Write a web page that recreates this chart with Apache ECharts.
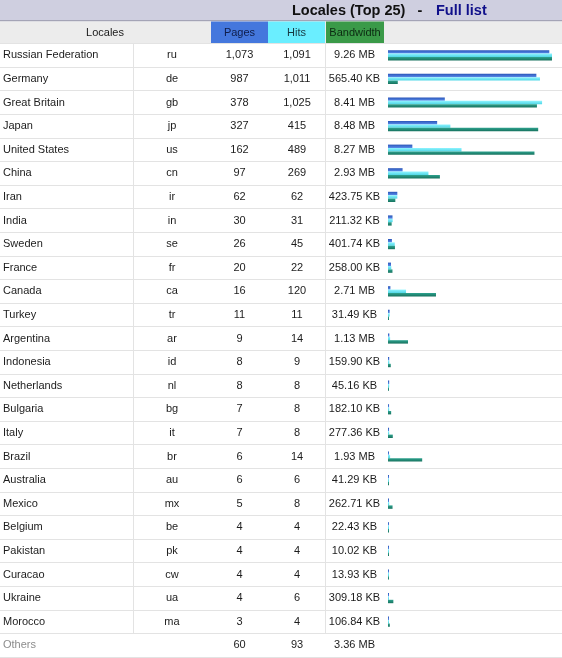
<!DOCTYPE html>
<html>
<head>
<meta charset="utf-8">
<script src="https://cdn.jsdelivr.net/npm/echarts/dist/echarts.min.js"></script>
<style>
  html, body { margin: 0; padding: 0; background: #ffffff; }
  #chart { width: 562px; height: 658px; }
</style>
</head>
<body>
<div id="chart"></div>
<script>
// ---- data ----
const locales = ['Russian Federation', 'Germany', 'Great Britain', 'Japan', 'United States', 'China',
  'Iran', 'India', 'Sweden', 'France', 'Canada', 'Turkey', 'Argentina', 'Indonesia', 'Netherlands',
  'Bulgaria', 'Italy', 'Brazil', 'Australia', 'Mexico', 'Belgium', 'Pakistan', 'Curacao', 'Ukraine',
  'Morocco', 'Others'];
const codes = ['ru', 'de', 'gb', 'jp', 'us', 'cn', 'ir', 'in', 'se', 'fr', 'ca', 'tr', 'ar', 'id', 'nl',
  'bg', 'it', 'br', 'au', 'mx', 'be', 'pk', 'cw', 'ua', 'ma', ''];
const pages = [1073, 987, 378, 327, 162, 97, 62, 30, 26, 20, 16, 11, 9, 8, 8, 7, 7, 6, 6, 5, 4, 4, 4, 4, 3, 60];
const hits = [1091, 1011, 1025, 415, 489, 269, 62, 31, 45, 22, 120, 11, 14, 9, 8, 8, 8, 14, 6, 8, 4, 4, 4, 6, 4, 93];
// bandwidth in KB
const bandwidthKB = [9482.24, 565.40, 8611.84, 8683.52, 8468.48, 3000.32, 423.75, 211.32, 401.74, 258.00,
  2775.04, 31.49, 1157.12, 159.90, 45.16, 182.10, 277.36, 1976.32, 41.29, 262.71, 22.43, 10.02, 13.93,
  309.18, 106.84, 3440.64];
const headers = ['Locales', 'Pages', 'Hits', 'Bandwidth'];
const titleText = 'Locales (Top 25)';
const linkText = 'Full list';

// ---- layout / style ----
const W = 562, H = 658;
const ROWS_TOP = 43.5, ROW_H = 23.6;
const BAR_LEFT = 388, BAR_W = 164;
const FONT = 'Liberation Sans';
const TXT = '#1c1c1c';
const nTop = locales.length - 1;

function fmtInt(n) { return String(n).replace(/\B(?=(\d{3})+(?!\d))/g, ','); }
function fmtBW(kb) { return kb >= 1024 ? (kb / 1024).toFixed(2) + ' MB' : kb.toFixed(2) + ' KB'; }

const gridH = ROW_H * locales.length;

function textAxis(centerX, align, formatter, colorFn) {
  return {
    type: 'category', gridIndex: 1, data: locales, inverse: true, position: 'left',
    offset: BAR_LEFT - centerX,
    axisLine: { show: false }, axisTick: { show: false }, splitLine: { show: false },
    axisLabel: {
      show: true, interval: 0, margin: 0, align: align, fontFamily: FONT, fontSize: 11,
      color: colorFn || TXT, formatter: formatter
    }
  };
}

const option = {
  backgroundColor: '#ffffff',
  animation: false,
  grid: [
    { left: 0, width: W, top: ROWS_TOP, height: gridH },
    { left: BAR_LEFT, width: BAR_W, top: ROWS_TOP, height: gridH }
  ],
  xAxis: [
    { type: 'value', gridIndex: 0, show: false },
    { type: 'value', gridIndex: 1, show: false, min: 0, max: Math.max(...hits.slice(0, nTop)) },
    { type: 'value', gridIndex: 1, show: false, min: 0, max: Math.max(...bandwidthKB.slice(0, nTop)) }
  ],
  yAxis: [
    {
      type: 'category', gridIndex: 0, data: locales, inverse: true,
      axisLine: { show: false }, axisTick: { show: false }, axisLabel: { show: false },
      splitLine: { show: true, lineStyle: { color: '#e3e3e3', width: 1 } }
    },
    {
      type: 'category', gridIndex: 1, data: locales, inverse: true,
      axisLine: { show: false }, axisTick: { show: false }, axisLabel: { show: false },
      splitLine: { show: false }
    },
    textAxis(3, 'left', (v, i) => locales[i], (v, i) => (i === nTop ? '#8c8c8c' : TXT)),
    textAxis(172, 'center', (v, i) => codes[i]),
    textAxis(239.5, 'center', (v, i) => fmtInt(pages[i])),
    textAxis(297, 'center', (v, i) => fmtInt(hits[i])),
    textAxis(354.5, 'center', (v, i) => fmtBW(bandwidthKB[i]))
  ],
  series: [
    {
      name: 'Pages', type: 'bar', xAxisIndex: 1, yAxisIndex: 1, data: pages.slice(0, nTop),
      barWidth: 3.4, barGap: '0%', barMinHeight: 1,
      itemStyle: { color: { type: 'linear', x: 0, y: 0, x2: 0, y2: 1,
        colorStops: [{ offset: 0, color: '#2a55b8' }, { offset: 1, color: '#5a8ceb' }] } }
    },
    {
      name: 'Hits', type: 'bar', xAxisIndex: 1, yAxisIndex: 1, data: hits.slice(0, nTop),
      barWidth: 3.4, barGap: '0%', barMinHeight: 1,
      itemStyle: { color: { type: 'linear', x: 0, y: 0, x2: 0, y2: 1,
        colorStops: [{ offset: 0, color: '#8ff4ff' }, { offset: 1, color: '#4fd6e6' }] } }
    },
    {
      name: 'Bandwidth', type: 'bar', xAxisIndex: 2, yAxisIndex: 1, data: bandwidthKB.slice(0, nTop),
      barWidth: 3.4, barGap: '0%', barMinHeight: 1,
      itemStyle: { color: { type: 'linear', x: 0, y: 0, x2: 0, y2: 1,
        colorStops: [{ offset: 0, color: '#2ea38f' }, { offset: 1, color: '#17725e' }] } }
    }
  ],
  graphic: [
    // title bar
    { type: 'rect', shape: { x: 0, y: 0, width: W, height: 20 }, style: { fill: '#cfcfe0' }, silent: true },
    { type: 'rect', shape: { x: 0, y: 20, width: W, height: 1.5 }, style: { fill: '#a4a4b6' }, silent: true },
    { type: 'text', x: 292, y: 10.5, style: { text: titleText, font: 'bold 14.5px ' + FONT, fill: '#111111', textVerticalAlign: 'middle' }, silent: true },
    { type: 'text', x: 420, y: 10.5, style: { text: '-', font: 'bold 14.5px ' + FONT, fill: '#111111', textAlign: 'center', textVerticalAlign: 'middle' }, silent: true },
    { type: 'text', x: 436, y: 10.5, style: { text: linkText, font: 'bold 14.5px ' + FONT, fill: '#10108a', textVerticalAlign: 'middle' }, silent: true },
    // header row
    { type: 'rect', shape: { x: 0, y: 21.5, width: W, height: 21.5 }, style: { fill: '#ececec' }, silent: true },
    { type: 'rect', shape: { x: 211, y: 21.5, width: 57, height: 21.5 }, style: { fill: '#4477dd' }, silent: true },
    { type: 'rect', shape: { x: 268, y: 21.5, width: 57, height: 21.5 }, style: { fill: '#6aeeff' }, silent: true },
    { type: 'rect', shape: { x: 326, y: 21.5, width: 58, height: 21.5 }, style: { fill: '#3a9a48' }, silent: true },
    { type: 'text', x: 105, y: 32.5, style: { text: headers[0], font: '11px ' + FONT, fill: '#1a1a1a', textAlign: 'center', textVerticalAlign: 'middle' }, silent: true },
    { type: 'text', x: 239.5, y: 32.5, style: { text: headers[1], font: '11px ' + FONT, fill: '#0f1d4a', textAlign: 'center', textVerticalAlign: 'middle' }, silent: true },
    { type: 'text', x: 296.5, y: 32.5, style: { text: headers[2], font: '11px ' + FONT, fill: '#173840', textAlign: 'center', textVerticalAlign: 'middle' }, silent: true },
    { type: 'text', x: 355, y: 32.5, style: { text: headers[3], font: '11px ' + FONT, fill: '#0c2a12', textAlign: 'center', textVerticalAlign: 'middle' }, silent: true },
    // column separators
    { type: 'rect', shape: { x: 133, y: ROWS_TOP, width: 1, height: ROW_H * nTop }, style: { fill: '#e3e3e3' }, silent: true },
    { type: 'rect', shape: { x: 325, y: ROWS_TOP, width: 1, height: ROW_H * nTop }, style: { fill: '#e3e3e3' }, silent: true }
  ]
};

const chart = echarts.init(document.getElementById('chart'), null, { renderer: 'canvas' });
chart.setOption(option);
</script>
</body>
</html>
